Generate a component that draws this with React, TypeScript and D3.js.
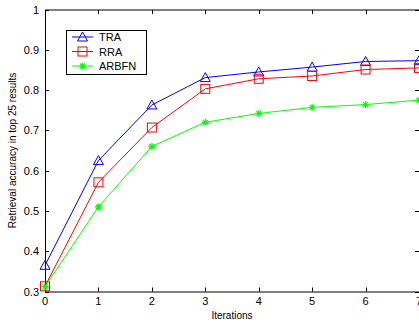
import * as d3 from "d3";
import { useEffect, useRef } from "react";

const iterations = [0, 1, 2, 3, 4, 5, 6, 7];
const traValues = [0.365, 0.625, 0.763, 0.831, 0.845, 0.857, 0.871, 0.873];
const rraValues = [0.313, 0.571, 0.707, 0.803, 0.828, 0.835, 0.851, 0.855];
const arbfnValues = [0.312, 0.51, 0.66, 0.72, 0.742, 0.757, 0.764, 0.775];
const yTicks = [0.3, 0.4, 0.5, 0.6, 0.7, 0.8, 0.9, 1];
const seriesNames = ["TRA", "RRA", "ARBFN"];

const W = 419;
const H = 323;

const App = () => {
  const svgRef = useRef<SVGSVGElement | null>(null);

  useEffect(() => {
    const svg = d3.select(svgRef.current);
    svg.selectAll("*").remove();
    svg.attr("width", W).attr("height", H);

    const left = 45;
    const right = 419;
    const top = 9.5;
    const bottom = 291.5;

    const x = d3.scaleLinear().domain([0, 7]).range([left, right]);
    const y = d3.scaleLinear().domain([0.3, 1]).range([bottom, top]);

    svg.append("rect").attr("width", W).attr("height", H).attr("fill", "#fff");

    const font = "'Liberation Sans', Arial, sans-serif";

    // axes box
    svg.append("rect")
      .attr("x", left + 0.5).attr("y", top + 0.5)
      .attr("width", right - left + 20).attr("height", bottom - top)
      .attr("fill", "none").attr("stroke", "#000").attr("stroke-width", 1);

    // x ticks (inward, bottom and top)
    const xt = svg.append("g");
    iterations.forEach((v) => {
      const px = Math.round(x(v)) + 0.5;
      xt.append("line").attr("x1", px).attr("x2", px).attr("y1", bottom).attr("y2", bottom - 4).attr("stroke", "#000");
      xt.append("line").attr("x1", px).attr("x2", px).attr("y1", top + 0.5).attr("y2", top + 4.5).attr("stroke", "#000");
      xt.append("text")
        .attr("x", x(v)).attr("y", bottom + 13)
        .attr("text-anchor", "middle")
        .attr("font-family", font).attr("font-size", 11)
        .text(String(v));
    });

    // y ticks
    const yt = svg.append("g");
    yTicks.forEach((v) => {
      const py = Math.round(y(v)) + 0.5;
      yt.append("line").attr("x1", left).attr("x2", left + 4).attr("y1", py).attr("y2", py).attr("stroke", "#000");
      yt.append("line").attr("x1", right - 4).attr("x2", right).attr("y1", py).attr("y2", py).attr("stroke", "#000");
      yt.append("text")
        .attr("x", left - 6).attr("y", y(v) + 4)
        .attr("text-anchor", "end")
        .attr("font-family", font).attr("font-size", 11)
        .text(d3.format("")(v));
    });

    svg.append("text")
      .attr("x", (left + right) / 2).attr("y", 319)
      .attr("text-anchor", "middle")
      .attr("font-family", font).attr("font-size", 10)
      .text("Iterations");

    svg.append("text")
      .attr("transform", `translate(16, ${(top + bottom) / 2}) rotate(-90)`)
      .attr("text-anchor", "middle")
      .attr("font-family", font).attr("font-size", 10)
      .text("Retrieval accuracy in top 25 results");

    const colors = ["#0000ff", "#ff0000", "#00ff00"];
    const allSeries = [traValues, rraValues, arbfnValues];

    const drawMarker = (g: any, kind: number, cx: number, cy: number, c: string) => {
      if (kind === 0) {
        g.append("path")
          .attr("d", `M${cx},${cy - 5}L${cx + 5},${cy + 4}L${cx - 5},${cy + 4}Z`)
          .attr("fill", "none").attr("stroke", c).attr("stroke-width", 1);
      } else if (kind === 1) {
        g.append("rect")
          .attr("x", cx - 4.5).attr("y", cy - 4.5).attr("width", 9).attr("height", 9)
          .attr("fill", "none").attr("stroke", c).attr("stroke-width", 1);
      } else {
        const r = 3.5;
        const d = `M${cx - r},${cy}L${cx + r},${cy}M${cx},${cy - r}L${cx},${cy + r}` +
          `M${cx - 2.5},${cy - 2.5}L${cx + 2.5},${cy + 2.5}M${cx - 2.5},${cy + 2.5}L${cx + 2.5},${cy - 2.5}`;
        g.append("path").attr("d", d).attr("stroke", c).attr("stroke-width", 1.2).attr("fill", "none");
      }
    };

    const line = d3.line<number>().x((_d, i) => x(iterations[i])).y((d) => y(d));

    allSeries.forEach((vals, k) => {
      const g = svg.append("g");
      g.append("path").attr("d", line(vals) as string)
        .attr("fill", "none").attr("stroke", colors[k]).attr("stroke-width", 1);
      vals.forEach((v, i) => drawMarker(g, k, x(iterations[i]), y(v), colors[k]));
    });

    // legend
    const lg = svg.append("g");
    lg.append("rect").attr("x", 66.5).attr("y", 30.5).attr("width", 80).attr("height", 44)
      .attr("fill", "#fff").attr("stroke", "#000");
    seriesNames.forEach((name, k) => {
      const ly = 37 + k * 14.5;
      lg.append("line").attr("x1", 72).attr("x2", 93).attr("y1", ly).attr("y2", ly)
        .attr("stroke", colors[k]).attr("stroke-width", 1);
      drawMarker(lg, k, 82.5, ly, colors[k]);
      lg.append("text").attr("x", 99).attr("y", ly + 4)
        .attr("font-family", font).attr("font-size", 11)
        .text(name);
    });
  }, []);

  return (
    <svg ref={svgRef} style={{ position: "absolute", left: 0, top: 0, display: "block" }}></svg>
  );
};

export default App;
